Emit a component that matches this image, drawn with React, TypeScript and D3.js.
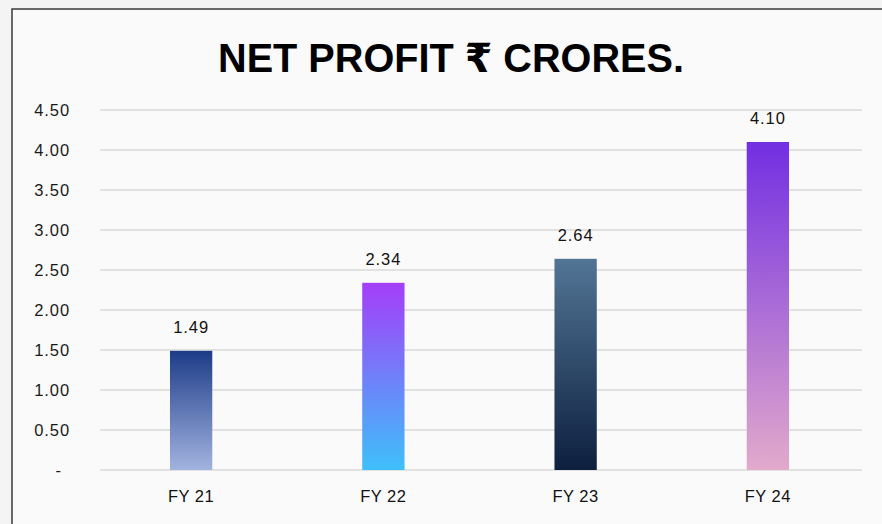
import * as d3 from "d3";

const categories = ["FY 21", "FY 22", "FY 23", "FY 24"];
const values = [1.49, 2.34, 2.64, 4.1];
const tickValues = [0, 0.5, 1, 1.5, 2, 2.5, 3, 3.5, 4, 4.5];
const gradients = [
  ["#1d3c88", "#a2b3df"],
  ["#a43ef9", "#3ec0fa"],
  ["#527595", "#0d1f3f"],
  ["#722ee2", "#e2aacb"],
];

const W = 882;
const H = 524;

function App() {
  const x = d3.scaleBand().domain(categories).range([95, 864]).paddingInner(0.78).paddingOuter(0.39);
  const y = d3.scaleLinear().domain([0, 4.5]).range([470, 110]);
  const fmt = d3.format(".2f");
  const font = "'Liberation Sans', Arial, sans-serif";

  return (
    <svg width={W} height={H} style={{ position: "absolute", left: 0, top: 0 }}>
      <defs>
        {gradients.map((g, i) => (
          <linearGradient key={i} id={`grad-${i}`} x1="0" y1="0" x2="0" y2="1">
            <stop offset="0%" stopColor={g[0]} />
            <stop offset="100%" stopColor={g[1]} />
          </linearGradient>
        ))}
      </defs>
      <rect width={W} height={H} fill="#f4f4f4" />
      <rect x={12} y={9} width={W} height={H} fill="#fafafa" stroke="#3a3a3a" strokeWidth={1.5} />
      <text
        x={451}
        y={72}
        textAnchor="middle"
        fontFamily={`'Liberation Sans', 'DejaVu Sans', sans-serif`}
        fontWeight="bold"
        fontSize={40}
        textLength={466}
        lengthAdjust="spacingAndGlyphs"
        fill="#000"
      >
        NET PROFIT ₹ CRORES.
      </text>
      {tickValues.map((t) => (
        <g key={t}>
          <line x1={100} x2={862} y1={y(t)} y2={y(t)} stroke="#c9c9c9" strokeWidth={1} />
          <text
            x={t === 0 ? 62 : 70}
            y={y(t) + 6}
            textAnchor="end"
            fontFamily={font}
            fontSize={16.5}
            letterSpacing={0.9}
            fill="#1a1a1a"
          >
            {t === 0 ? "-" : fmt(t)}
          </text>
        </g>
      ))}
      {categories.map((c, i) => {
        const bx = x(c) as number;
        const cx = bx + x.bandwidth() / 2;
        return (
          <g key={c}>
            <rect x={bx} y={y(values[i])} width={x.bandwidth()} height={y(0) - y(values[i])} fill={`url(#grad-${i})`} />
            <text
              x={cx}
              y={y(values[i]) - 18}
              textAnchor="middle"
              fontFamily={font}
              fontSize={16.5}
              letterSpacing={0.9}
              fill="#111"
            >
              {fmt(values[i])}
            </text>
            <text x={cx} y={502} textAnchor="middle" fontFamily={font} fontSize={16.5} letterSpacing={0.5} fill="#111">
              {c}
            </text>
          </g>
        );
      })}
    </svg>
  );
}

export default App;
